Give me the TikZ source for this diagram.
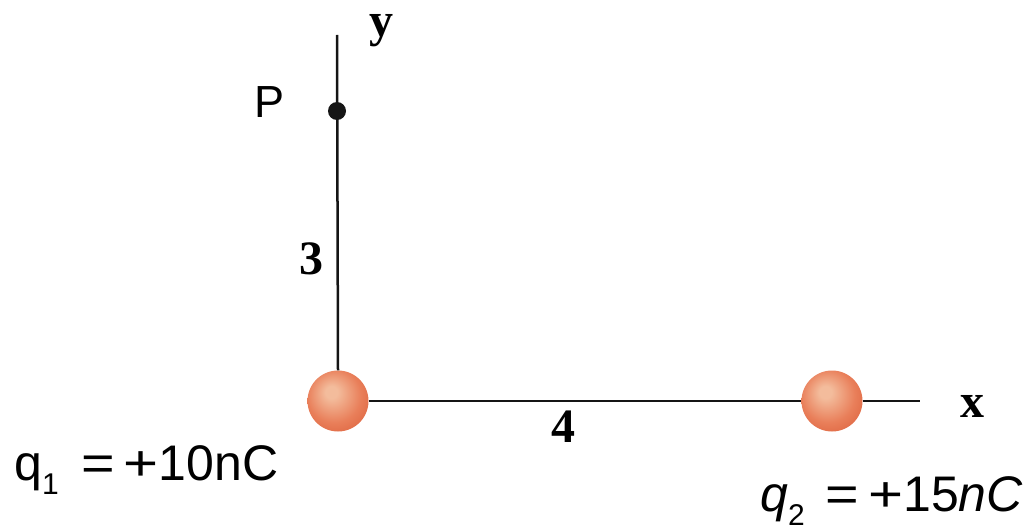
\documentclass[tikz,border=0pt]{standalone}
\usepackage{fontspec}
\setmainfont{Liberation Serif}
\setsansfont{Liberation Sans}
\usepackage{graphicx}
\usepackage{xcolor}
\usepackage{tikz}
\usetikzlibrary{positioning}
\definecolor{axisc}{HTML}{151515}
\definecolor{chgedge}{HTML}{D85733}
\definecolor{chgmid}{HTML}{E97F5A}
\definecolor{chghl}{HTML}{F3BC9C}
\pgfdeclareradialshading{chargeball}{\pgfpoint{-6bp}{8bp}}{%
  color(0bp)=(chghl); color(5bp)=(chghl); color(22bp)=(chgmid);
  color(40bp)=(chgedge); color(50bp)=(chgedge)}
\tikzset{
  axis/.style={line width=2.5pt,axisc},
  charge/.style={circle,minimum size=61pt,inner sep=0pt,shading=chargeball},
  pdot/.style={circle,fill=axisc,minimum size=18pt,inner sep=0pt},
  dimlbl/.style={font=\bfseries\fontsize{48}{48}\selectfont,inner sep=0pt},
  qlbl/.style={font=\sffamily\fontsize{50}{50}\selectfont,anchor=base west,inner sep=0pt}
}
\newcommand{\qsub}[1]{\raisebox{-0.28em}{\fontsize{30}{30}\selectfont\upshape #1}}
\newcommand{\qeq}{\scalebox{1.15}[1]{=}}
\newcommand{\qplus}{\scalebox{1.2}[1]{+}}

\begin{document}
\begin{tikzpicture}[x=1pt,y=-1pt]
\useasboundingbox (0,0) rectangle (1036,532);
% charges and point P
\node[charge] (q1) at (338,401) {};
\node[charge] (q2) at (832,401) {};
\node[pdot] (P) at (337,111) {};
\coordinate (ytop) at (337,35);
\coordinate (xend) at (920,401);
% axes
\draw[axis] (ytop) -- (q1.north);
\draw[axis] (q1.east) -- (q2.west);
\draw[axis] (q2.east) -- (xend);
\node[dimlbl] (ylbl) at (381,31) {y};
\node[dimlbl] (xlbl) at (972,406) {x};
\node[dimlbl] (d3) at (311,259) {3};
\node[dimlbl] (d4) at (563,427) {4};
\node[font=\sffamily\fontsize{45}{45}\selectfont,inner sep=0pt] (Plbl) at (270,102) {P};
% charge values
\node[qlbl] (q1lbl) at (14,480) {q\qsub{1}\hspace{0.45em}\qeq\hspace{0.18em}\qplus10nC};
\node[qlbl] (q2lbl) at (760,511) {\itshape q\qsub{2}\hspace{0.42em}\upshape\qeq\hspace{0.18em}\qplus15\itshape nC};
\end{tikzpicture}
\end{document}
